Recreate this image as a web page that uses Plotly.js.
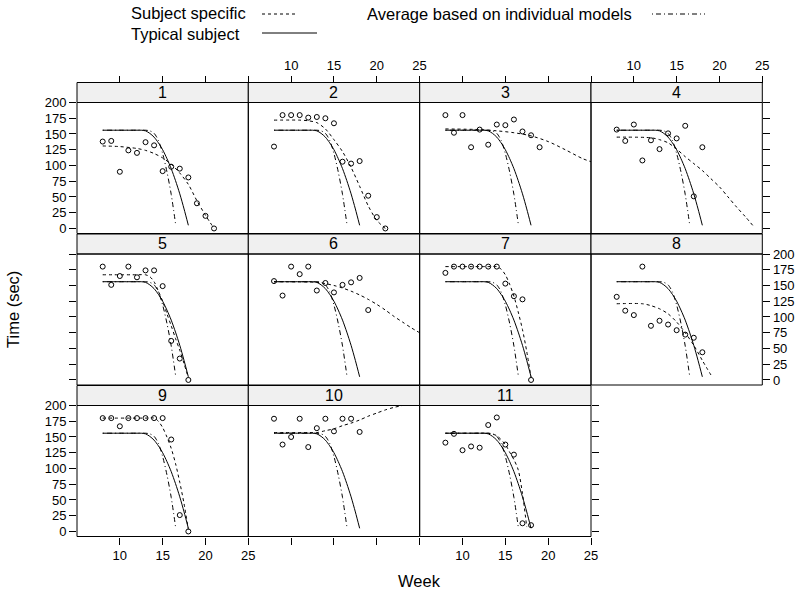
<!DOCTYPE html>
<html>
<head>
<meta charset="utf-8">
<script src="https://cdn.plot.ly/plotly-3.0.1.min.js"></script>
<style>html,body{margin:0;padding:0;background:#fff}</style>
</head>
<body>
<div id="chart" style="width:806px;height:596px"></div>
<script>
// Subjects shown, one panel each (4 columns x 3 rows, filled left to right, top to bottom)
const subjects = ['1', '2', '3', '4', '5', '6', '7', '8', '9', '10', '11'];

// Observed times (sec) by week for each subject
const obsWeek = [
  [8, 9, 10, 11, 12, 13, 14, 15, 16, 17, 18, 19, 20, 21],
  [8, 9, 10, 11, 12, 13, 14, 15, 16, 17, 18, 19, 20, 21],
  [8, 9, 10, 11, 12, 13, 14, 15, 16, 17, 18, 19],
  [8, 9, 10, 11, 12, 13, 14, 15, 16, 17, 18],
  [8, 9, 10, 11, 12, 13, 14, 15, 16, 17, 18],
  [8, 9, 10, 11, 12, 13, 14, 15, 16, 17, 18, 19],
  [8, 9, 10, 11, 12, 13, 14, 15, 16, 17, 18],
  [8, 9, 10, 11, 12, 13, 14, 15, 16, 17, 18],
  [8, 9, 10, 11, 12, 13, 14, 15, 16, 17, 18],
  [8, 9, 10, 11, 12, 13, 14, 15, 16, 17, 18],
  [8, 9, 10, 11, 12, 13, 14, 15, 16, 17, 18]
];
const obsTime = [
  [138, 139, 90, 124, 120, 137, 132, 91, 98, 95, 81, 40, 20, 0],
  [130, 180, 180, 180, 176, 177, 175, 167, 106, 103, 107, 52, 18, 0],
  [180, 152, 180, 129, 157, 133, 165, 164, 173, 154, 148, 129],
  [157, 139, 165, 108, 140, 126, 151, 143, 163, 51, 129],
  [180, 151, 165, 180, 163, 174, 174, 149, 62, 34, 0],
  [157, 134, 180, 168, 180, 142, 154, 139, 151, 155, 162, 111],
  [170, 180, 180, 180, 180, 180, 180, 153, 133, 128, 0],
  [132, 110, 103, 180, 86, 94, 88, 79, 72, 67, 44],
  [180, 180, 167, 180, 180, 180, 180, 180, 146, 26, 0],
  [179, 138, 150, 179, 134, 164, 179, 159, 179, 179, 158],
  [141, 155, 129, 135, 133, 169, 181, 138, 122, 13, 10]
];

// Subject-specific fitted curves
const fitWeek = [
  [8, 10, 12, 13, 14, 15, 16, 17, 18, 19, 20, 21],
  [8, 11, 12, 13, 14, 15, 16, 17, 18, 19, 20, 21],
  [8, 12, 14, 16, 18, 20, 22, 24, 25],
  [8, 12, 13, 14, 15, 16, 17, 18, 19, 20, 21, 22, 23, 24],
  [8, 12, 13, 13.5, 14, 14.5, 15, 15.5, 16, 16.5, 17, 17.5, 18],
  [8, 13, 14, 15, 16, 17, 18, 19, 20, 21, 22, 23, 24, 25],
  [8, 13, 14, 14.5, 15, 15.5, 16, 16.5, 17, 17.5, 18],
  [8, 11, 12, 13, 14, 15, 16, 17, 18, 19],
  [8, 13, 14, 14.5, 15, 15.5, 16, 16.5, 17, 17.5, 18],
  [8, 12, 13, 14, 15, 16, 17, 18, 19, 20, 21, 22, 23, 24, 25],
  [8, 12, 13, 14, 15, 15.5, 16, 16.5, 17, 17.5]
];
const fitTime = [
  [131, 130, 127, 124, 119, 112, 102, 88, 70, 44, 21, 0],
  [172, 172, 171, 168, 158, 141, 122, 97, 67, 36, 13, 0],
  [158, 157, 155, 152, 147, 138, 125, 111, 106],
  [145, 144, 141, 136, 126, 114, 103, 92, 79, 66, 50, 34, 19, 3],
  [167, 167, 167, 164, 156, 141, 125, 105, 86, 66, 47, 26, 3],
  [156, 155, 153, 150, 146, 141, 135, 128, 120, 111, 101, 92, 83, 75],
  [180, 180, 180, 176, 167, 152, 133, 108, 80, 45, 4],
  [121, 121, 118, 113, 105, 92, 75, 55, 31, 8],
  [180, 180, 180, 175, 165, 150, 132, 108, 78, 44, 3],
  [157, 157, 157, 160, 163, 168, 172, 177, 183, 188, 193, 197, 200, 204, 208],
  [156, 156, 156, 152, 138, 126, 114, 98, 60, 7]
];

// Typical-subject curve and average of individual models (shared by all panels)
const typicalWeek = [8, 10, 12, 12.5, 13, 13.5, 14, 14.5, 15, 15.5, 16, 16.5, 17, 17.5, 18];
const typicalTime = [156, 156, 156, 156, 155, 151, 145, 136, 125, 111, 95, 76, 55, 31, 5];
const averageWeek = [8, 10, 12, 13, 13.5, 14, 14.5, 15, 15.5, 16, 16.5];
const averageTime = [156, 156, 156, 156, 155, 151, 140, 119, 90, 54, 8];

// Key entries
const keyLeft = ['Subject specific', 'Typical subject'];
const keyRight = 'Average based on individual models';

// Axis ticks
const xTicks = [10, 15, 20, 25];
const yTicks = [0, 25, 50, 75, 100, 125, 150, 175, 200];

// Page geometry (pixels)
const W = 806, H = 596;
const colLeft = [77, 248.3, 419.7, 591], colW = 171.3;
const rowTop = [82.5, 234, 385.5], stripH = 20, panH = 131;
const px = p => p / W;
const py = p => 1 - p / H;

const FONT = 'Liberation Sans, Arial, Helvetica, sans-serif';
const traces = [], shapes = [], annotations = [];
const layout = {
  width: W, height: H,
  margin: {l: 0, r: 0, t: 0, b: 0},
  showlegend: false,
  paper_bgcolor: '#ffffff',
  plot_bgcolor: 'rgba(0,0,0,0)',
  font: {family: FONT, color: '#000', size: 13}
};

const dashed = '3px,3px';
const dashDot = '1px,3px,5px,3px';

subjects.forEach((s, i) => {
  const r = Math.floor(i / 4), c = i % 4;
  const k = i === 0 ? '' : String(i + 1);
  const xa = 'x' + k, ya = 'y' + k;
  const x0 = colLeft[c], x1 = x0 + colW;
  const sTop = rowTop[r], pTop = sTop + stripH, pBot = pTop + panH;
  const rightEnd = (c === 3) || (i === subjects.length - 1);

  const xaxis = {
    domain: [px(x0), px(x1)], range: [5, 25], tickvals: xTicks,
    showgrid: false, zeroline: false, showline: false,
    ticklen: 7, tickwidth: 1, tickcolor: '#000',
    tickfont: {size: 13, family: FONT}
  };
  if (r === 0) {
    Object.assign(xaxis, {anchor: 'free', position: py(sTop), side: 'top',
      ticks: 'outside', showticklabels: c % 2 === 1});
  } else if (r === 2) {
    Object.assign(xaxis, {anchor: ya, side: 'bottom', ticks: 'outside',
      showticklabels: c % 2 === 0});
  } else {
    Object.assign(xaxis, {anchor: ya, ticks: '', showticklabels: false});
  }
  const yaxis = {
    domain: [py(pBot), py(pTop)], range: [-8, 200], tickvals: yTicks,
    anchor: xa, showgrid: false, zeroline: false, showline: false,
    ticklen: 7, tickwidth: 1, tickcolor: '#000',
    tickfont: {size: 13, family: FONT}
  };
  if (c === 0) {
    Object.assign(yaxis, {side: 'left', ticks: 'outside', showticklabels: r !== 1});
  } else if (rightEnd) {
    Object.assign(yaxis, {side: 'right', ticks: 'outside', showticklabels: r === 1});
  } else {
    Object.assign(yaxis, {ticks: '', showticklabels: false});
  }
  layout['xaxis' + k] = xaxis;
  layout['yaxis' + k] = yaxis;

  // strip with subject number
  shapes.push({type: 'rect', xref: 'paper', yref: 'paper',
    x0: px(x0), x1: px(x1), y0: py(pTop), y1: py(sTop),
    fillcolor: '#f0f0f0', line: {color: '#000', width: 1}, layer: 'below'});
  annotations.push({xref: 'paper', yref: 'paper', x: px((x0 + x1) / 2), y: py(sTop + stripH / 2),
    text: s, showarrow: false, xanchor: 'center', yanchor: 'middle',
    font: {size: 16, family: FONT, color: '#000'}});
  // panel frame
  shapes.push({type: 'rect', xref: 'paper', yref: 'paper',
    x0: px(x0), x1: px(x1), y0: py(pBot), y1: py(pTop),
    fillcolor: 'rgba(0,0,0,0)', line: {color: '#000', width: 1}, layer: 'above'});

  traces.push({type: 'scatter', mode: 'markers', x: obsWeek[i], y: obsTime[i],
    xaxis: xa, yaxis: ya, cliponaxis: false,
    marker: {symbol: 'circle-open', size: 5, color: '#000', line: {width: 1, color: '#000'}},
    hoverinfo: 'skip'});
  traces.push({type: 'scatter', mode: 'lines', x: fitWeek[i], y: fitTime[i],
    xaxis: xa, yaxis: ya,
    line: {color: '#000', width: 1, dash: dashed, shape: 'spline', smoothing: 0.8},
    hoverinfo: 'skip'});
  traces.push({type: 'scatter', mode: 'lines', x: typicalWeek, y: typicalTime,
    xaxis: xa, yaxis: ya,
    line: {color: '#000', width: 1, shape: 'spline', smoothing: 0.8},
    hoverinfo: 'skip'});
  traces.push({type: 'scatter', mode: 'lines', x: averageWeek, y: averageTime,
    xaxis: xa, yaxis: ya,
    line: {color: '#000', width: 1, dash: dashDot, shape: 'spline', smoothing: 0.8},
    hoverinfo: 'skip'});
});

// key above the panels
const keyFont = {size: 16.5, family: FONT, color: '#000'};
annotations.push(
  {xref: 'paper', yref: 'paper', x: px(129), y: py(24), text: keyLeft.join('<br>'),
   showarrow: false, xanchor: 'left', yanchor: 'middle', align: 'left', font: keyFont},
  {xref: 'paper', yref: 'paper', x: px(365), y: py(14), text: keyRight,
   showarrow: false, xanchor: 'left', yanchor: 'middle', font: keyFont}
);
shapes.push(
  {type: 'line', xref: 'paper', yref: 'paper', x0: px(262), x1: px(297), y0: py(14), y1: py(14),
   line: {color: '#000', width: 1, dash: dashed}},
  {type: 'line', xref: 'paper', yref: 'paper', x0: px(262), x1: px(317), y0: py(33), y1: py(33),
   line: {color: '#000', width: 1}},
  {type: 'line', xref: 'paper', yref: 'paper', x0: px(652), x1: px(705), y0: py(14), y1: py(14),
   line: {color: '#000', width: 1, dash: dashDot}}
);

// axis titles
annotations.push(
  {xref: 'paper', yref: 'paper', x: px(419), y: py(581), text: 'Week',
   showarrow: false, xanchor: 'center', yanchor: 'middle', font: keyFont},
  {xref: 'paper', yref: 'paper', x: px(13), y: py(310), text: 'Time (sec)', textangle: -90,
   showarrow: false, xanchor: 'center', yanchor: 'middle', font: keyFont}
);

layout.shapes = shapes;
layout.annotations = annotations;

Plotly.newPlot('chart', traces, layout, {staticPlot: true, displayModeBar: false});
</script>
</body>
</html>
